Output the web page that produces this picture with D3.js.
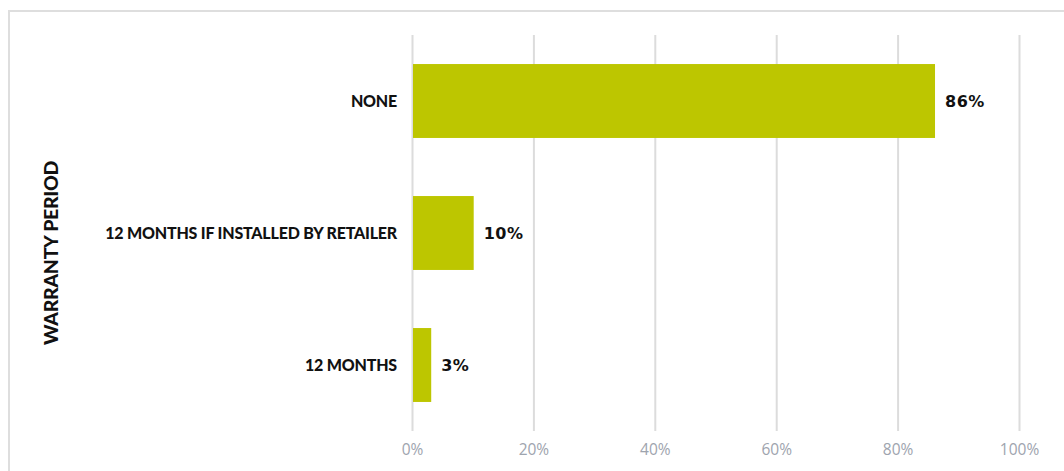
<html>
<head>
    <script src="https://d3js.org/d3.v7.min.js"></script>
    <style>
        body { margin: 0; background: #fff; }
        .grid line { stroke: #dcdcdc; stroke-width: 2; }
        .grid .domain { stroke: none; }
        .xaxis text { fill: #9ea4ae; font-family: "Open Sans", sans-serif; font-size: 15.5px; font-weight: 400; }
        .xaxis .domain, .xaxis line { stroke: none; }
        .cat { font-family: Lato, sans-serif; font-weight: 900; font-size: 16px; letter-spacing: -0.2px; fill: #111; }
        .val { font-family: "DejaVu Sans", sans-serif; font-weight: bold; font-size: 16px; letter-spacing: 0.5px; fill: #111; }
        .ytitle { font-family: Lato, sans-serif; font-weight: 900; font-size: 19.5px; letter-spacing: -0.3px; fill: #111; }
    </style>
</head>
<body>
<svg id="chart" width="1064" height="471"></svg>
<script>
    const categories = ["NONE", "12 MONTHS IF INSTALLED BY RETAILER", "12 MONTHS"];
    const values = [86, 10, 3];
    const ticks = [0, 20, 40, 60, 80, 100];
    const yTitle = "WARRANTY PERIOD";

    const svg = d3.select("svg#chart");

    // outer frame
    svg.append("rect")
        .attr("x", 9).attr("y", 11)
        .attr("width", 1100).attr("height", 500)
        .attr("fill", "none")
        .attr("stroke", "#dedede")
        .attr("stroke-width", 2);

    const x = d3.scaleLinear().domain([0, 100]).range([412, 1019]);
    const y = d3.scaleBand().domain(categories).range([35, 431]).paddingInner(0.44).paddingOuter(0.22);

    svg.append("g").attr("class", "grid")
        .attr("transform", "translate(0,431)")
        .call(d3.axisBottom(x).tickValues(ticks).tickSize(-396).tickFormat(""));

    svg.append("g").attr("class", "xaxis")
        .attr("transform", "translate(0,431)")
        .call(d3.axisBottom(x).tickValues(ticks).tickSize(0).tickPadding(13).tickFormat(d => d + "%"));

    svg.selectAll("rect.bar").data(values)
        .join("rect")
        .attr("class", "bar")
        .attr("x", x(0) + 1)
        .attr("y", (d, i) => y(categories[i]))
        .attr("width", d => x(d) - x(0))
        .attr("height", y.bandwidth())
        .attr("fill", "#bdc600");

    svg.selectAll("text.cat").data(categories)
        .join("text")
        .attr("class", "cat")
        .attr("x", 397)
        .attr("y", d => y(d) + y.bandwidth() / 2)
        .attr("dy", "0.35em")
        .attr("text-anchor", "end")
        .text(d => d);

    svg.selectAll("text.val").data(values)
        .join("text")
        .attr("class", "val")
        .attr("x", d => x(d) + 11)
        .attr("y", (d, i) => y(categories[i]) + y.bandwidth() / 2)
        .attr("dy", "0.35em")
        .text(d => d + "%");

    svg.append("text")
        .attr("class", "ytitle")
        .attr("transform", "translate(58,253) rotate(-90)")
        .attr("text-anchor", "middle")
        .text(yTitle);
</script>
</body>
</html>
